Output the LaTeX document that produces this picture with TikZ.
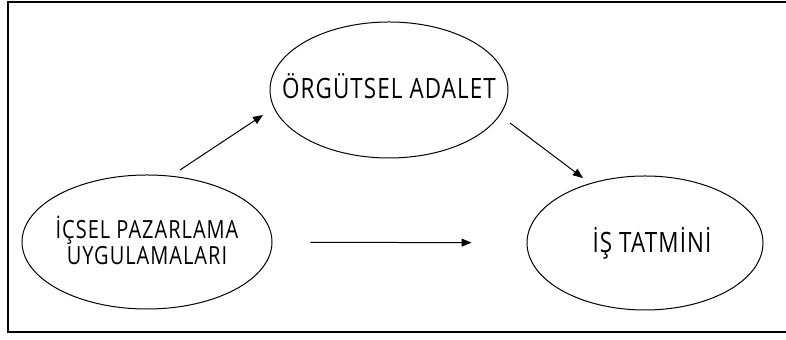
\documentclass[tikz,border=0pt]{standalone}
\usepackage{fontspec}
\setmainfont{Open Sans}[FakeStretch=0.8,LetterSpace=4]
\usetikzlibrary{arrows.meta}
\usetikzlibrary{shapes.geometric}

\begin{document}
\begin{tikzpicture}[
		x=0.5pt, y=-0.5pt,
		thin,
		>={Triangle[length=5pt,width=4pt]},
		font=\fontsize{14}{10}\selectfont,
		construct/.style={ellipse, draw, line width=0.5pt, inner sep=0pt},
		every label/.style={align=center, inner sep=0pt},
	]
		\useasboundingbox (0, 0) rectangle (786, 340);

		% frame, open on the right
		\draw [line width=1pt] (786, 2) -- (8, 2) -- (8, 332) -- (786, 332);

		% constructs
		\node [construct, minimum width=125pt, minimum height=67pt,
			label={[font=\fontsize{12.5}{10}\selectfont, yshift=1pt]center:İÇSEL PAZARLAMA\\UYGULAMALARI}] (ipu) at (147, 242) {};
		\node [construct, minimum width=119pt, minimum height=68pt,
			label={[yshift=2pt]center:ÖRGÜTSEL ADALET}] (oa) at (389, 90) {};
		\node [construct, minimum width=118pt, minimum height=67pt,
			label={[xshift=3.5pt]center:İŞ TATMİNİ}] (it) at (645, 243) {};

		% arrow ends
		\coordinate (ipu-out) at (180, 170);
		\coordinate (oa-in) at (263, 115);
		\coordinate (oa-out) at (510, 123);
		\coordinate (it-in) at (583, 178);

		% paths
		\draw [->, line width=0.5pt] (ipu-out) -- (oa-in);
		\draw [->, line width=0.5pt] (oa-out) -- (it-in);
		\draw [->, line width=0.5pt, shorten <=19pt, shorten >=27.5pt] (ipu) -- (it);
	\end{tikzpicture}
\end{document}
